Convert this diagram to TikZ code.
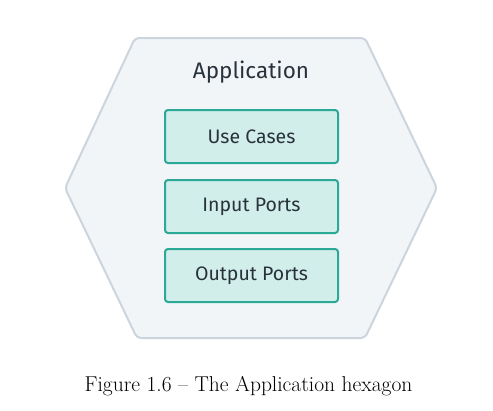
\documentclass[tikz,border=0pt]{standalone}
\usepackage{fontspec}
\newfontfamily\diagfont{Fira Sans}
\usetikzlibrary{positioning}

\definecolor{hexfill}{RGB}{242, 245, 248}
\definecolor{hexline}{RGB}{204, 213, 222}
\definecolor{portfill}{RGB}{210, 238, 234}
\definecolor{portline}{RGB}{43, 168, 150}
\definecolor{inktext}{RGB}{40, 50, 60}

\tikzset{
  portbox/.style={draw=portline, line width=2pt, fill=portfill, rounded corners=3pt,
    minimum width=173pt, minimum height=53pt, font=\diagfont\fontsize{19.5}{22}\selectfont,
    text=inktext, inner sep=0pt},
  hexside/.style={draw=hexline, line width=2pt, fill=hexfill, rounded corners=4pt, line join=round}
}

\begin{document}
\begin{tikzpicture}[x=1pt, y=-1pt]
  \useasboundingbox (0, 0) rectangle (493, 410);

  % hexagon
  \draw[hexside] (135, 38) -- (365, 38) -- (437, 188) -- (365, 338)
    -- (137, 338) -- (65, 188) -- cycle;

  % title and ports
  \node[font=\diagfont\fontsize{22.5}{26}\selectfont, text=inktext, anchor=base] (app) at (251, 78) {Application};
  \node[portbox] (usecases) at (251.5, 136.5) {Use Cases};
  \node[portbox, below=15pt of usecases] (inports) {Input Ports};
  \node[portbox, below=14pt of inports] (outports) {Output Ports};

  % caption
  \node[font=\fontsize{21.5}{24}\selectfont, anchor=base] (caption) at (248.5, 391) {Figure 1.6 -- The Application hexagon};
\end{tikzpicture}
\end{document}
